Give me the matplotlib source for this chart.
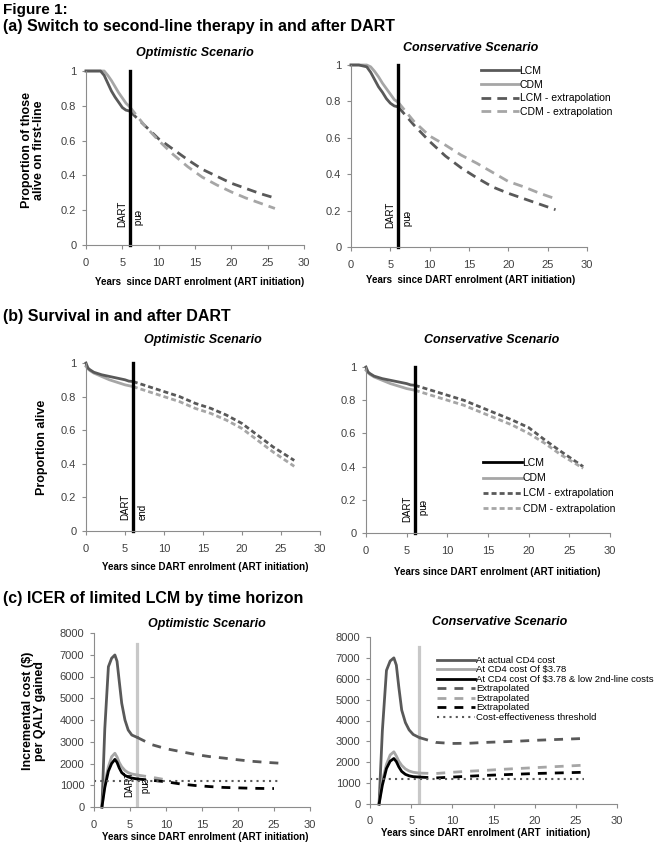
import matplotlib
matplotlib.use("Agg")
import matplotlib.pyplot as plt
from matplotlib.lines import Line2D

plt.rcParams['font.family'] = ['Liberation Sans', 'DejaVu Sans']

# ----- colours -----
DARK = "#595959"
LIGHT = "#a6a6a6"
BLACK = "#000000"
VLINE_C = "#c8c8c8"

# ----- (a) switch to second-line -----
a_t = [0, 1, 2, 2.5, 3, 3.5, 4, 4.5, 5, 5.5, 6]
a_opt_lcm = [1, 1, 1, 0.975, 0.93, 0.885, 0.85, 0.82, 0.79, 0.775, 0.77]
a_opt_cdm = [1, 1, 1, 1, 0.975, 0.945, 0.91, 0.875, 0.845, 0.815, 0.795]
a_con_lcm = [1, 1, 0.99, 0.96, 0.92, 0.88, 0.85, 0.815, 0.79, 0.775, 0.77]
a_con_cdm = [1, 1, 1, 0.99, 0.965, 0.935, 0.9, 0.87, 0.84, 0.81, 0.795]

a_te = [6, 8, 10, 12, 14, 16, 18, 20, 22, 24, 26]
a_opt_lcm_ext = [0.77, 0.69, 0.61, 0.55, 0.49, 0.435, 0.395, 0.355, 0.325, 0.295, 0.27]
a_opt_cdm_ext = [0.795, 0.69, 0.60, 0.52, 0.45, 0.39, 0.345, 0.305, 0.27, 0.24, 0.21]
a_con_lcm_ext = [0.77, 0.67, 0.58, 0.50, 0.435, 0.38, 0.33, 0.295, 0.265, 0.235, 0.205]
a_con_cdm_ext = [0.795, 0.69, 0.61, 0.56, 0.505, 0.46, 0.41, 0.36, 0.33, 0.295, 0.265]

# ----- (b) survival -----
b_t = [0, 0.25, 0.5, 1, 2, 3, 4, 5, 5.5, 6]
b_opt_lcm = [1.0, 0.97, 0.96, 0.945, 0.93, 0.92, 0.91, 0.9, 0.892, 0.89]
b_opt_cdm = [0.98, 0.965, 0.955, 0.94, 0.92, 0.9, 0.885, 0.87, 0.865, 0.86]
b_con_lcm = [1.0, 0.97, 0.96, 0.945, 0.93, 0.92, 0.91, 0.9, 0.892, 0.89]
b_con_cdm = [0.98, 0.965, 0.955, 0.94, 0.92, 0.9, 0.885, 0.87, 0.865, 0.86]

b_te = [6, 8, 10, 12, 14, 16, 18, 20, 22, 24, 26.7]
b_opt_lcm_ext = [0.89, 0.86, 0.83, 0.8, 0.76, 0.73, 0.69, 0.64, 0.57, 0.5, 0.42]
b_opt_cdm_ext = [0.86, 0.83, 0.8, 0.77, 0.73, 0.7, 0.66, 0.61, 0.54, 0.47, 0.385]
b_con_lcm_ext = [0.89, 0.86, 0.83, 0.8, 0.76, 0.72, 0.68, 0.635, 0.56, 0.49, 0.4]
b_con_cdm_ext = [0.86, 0.83, 0.8, 0.77, 0.73, 0.69, 0.65, 0.6, 0.54, 0.47, 0.39]

# ----- (c) ICER -----
c_t = [1.1, 1.5, 2.0, 2.45, 2.9, 3.2, 3.5, 3.85, 4.3, 4.75, 5.25, 6.0]
c_opt_actual = [0, 3600, 6450, 6840, 6990, 6700, 5800, 4770, 4000, 3540, 3310, 3200]
c_opt_low = [0, 1100, 1850, 2310, 2470, 2300, 2050, 1850, 1680, 1580, 1520, 1470]
c_opt_low2 = [0, 900, 1650, 2000, 2190, 2050, 1800, 1580, 1450, 1380, 1330, 1290]
c_con_actual = [0, 3500, 6400, 6850, 7000, 6650, 5600, 4500, 3900, 3550, 3330, 3180]
c_con_low = [0, 1100, 1900, 2350, 2500, 2300, 2050, 1850, 1680, 1580, 1520, 1480]
c_con_low2 = [0, 900, 1700, 2050, 2180, 2030, 1780, 1560, 1420, 1350, 1310, 1290]

c_te = [6, 8, 10, 12, 14, 16, 18, 20, 22, 24, 26]
c_opt_actual_ext = [3200, 2870, 2680, 2550, 2420, 2320, 2250, 2170, 2100, 2050, 2010]
c_opt_low_te = [6, 7, 8, 9, 10]
c_opt_low_ext = [1470, 1420, 1370, 1310, 1250]
c_opt_low2_te = [6, 8, 10, 12, 14, 16, 18, 20, 22, 24, 25]
c_opt_low2_ext = [1290, 1230, 1160, 1060, 990, 940, 900, 880, 860, 850, 850]
c_con_actual_ext = [3180, 2950, 2900, 2910, 2950, 2980, 3010, 3050, 3080, 3110, 3140]
c_con_low_ext = [1480, 1460, 1520, 1570, 1610, 1660, 1700, 1740, 1780, 1820, 1860]
c_con_low2_ext = [1290, 1250, 1290, 1330, 1370, 1400, 1430, 1460, 1480, 1500, 1520]
threshold_x = [0, 26]
threshold = [1200, 1200]

dart_end = 6
x_ticks = [0, 5, 10, 15, 20, 25, 30]
p_ticks = [0, 0.2, 0.4, 0.6, 0.8, 1]
p_labels = ["0", "0.2", "0.4", "0.6", "0.8", "1"]
c_ticks = [0, 1000, 2000, 3000, 4000, 5000, 6000, 7000, 8000]

xlab = "Years  since DART enrolment (ART initiation)"

W, H = 657, 850
fig = plt.figure(figsize=(W / 100, H / 100), dpi=100)


def add_ax(l, t, r, b):
    return fig.add_axes([l / W, 1 - b / H, (r - l) / W, (b - t) / H])


def ftext(x, y, s, **kw):
    fig.text(x / W, 1 - y / H, s, **kw)


def style(ax, yticks, ylabels, ymax):
    ax.set_xlim(0, 30)
    ax.set_ylim(0, ymax)
    for s in ['top', 'right']:
        ax.spines[s].set_visible(False)
    for s in ['left', 'bottom']:
        ax.spines[s].set_color('#8c8c8c')
        ax.spines[s].set_linewidth(0.8)
    ax.set_xticks(x_ticks)
    ax.set_yticks(yticks)
    ax.set_yticklabels(ylabels)
    ax.tick_params(axis='both', direction='out', length=3, color='#8c8c8c',
                   labelsize=8, labelcolor='#404040')
    ax.tick_params(axis='x', pad=6)
    ax.tick_params(axis='y', pad=4)
    ax.patch.set_visible(False)


lw = 2.0

# ---------------- headers ----------------
ftext(3, 10, "Figure 1:", fontsize=11, weight='bold', va='center')
ftext(3, 27, "(a) Switch to second-line therapy in and after DART", fontsize=11.5, weight='bold', va='center')
ftext(3, 316, "(b) Survival in and after DART", fontsize=11.5, weight='bold', va='center')
ftext(3, 598, "(c) ICER of limited LCM by time horizon", fontsize=11.5, weight='bold', va='center')

# ---------------- (a) ----------------
da = (3.5, 2.2)
panels_a = [
    ((86, 71, 304, 245), a_opt_lcm, a_opt_cdm, a_opt_lcm_ext, a_opt_cdm_ext, "Optimistic Scenario", (195, 53), (200, 282)),
    ((351, 65, 587, 247), a_con_lcm, a_con_cdm, a_con_lcm_ext, a_con_cdm_ext, "Conservative Scenario", (471, 48), (471, 280)),
]
for i, (rect, lcm, cdm, lcm_e, cdm_e, title, tpos, xpos) in enumerate(panels_a):
    ax = add_ax(*rect)
    style(ax, p_ticks, p_labels, 1)
    ax.plot(a_t, cdm, color=LIGHT, lw=lw, clip_on=False)
    ax.plot(a_t, lcm, color=DARK, lw=lw, clip_on=False)
    ax.plot(a_te, lcm_e, color=DARK, lw=lw, dashes=da, clip_on=False)
    ax.plot(a_te, cdm_e, color=LIGHT, lw=lw, dashes=da, clip_on=False)
    ax.plot([dart_end, dart_end], [0, 1], color=BLACK, lw=2.4, clip_on=False)
    ax.text(dart_end - 0.35, 0.105, "DART", rotation=90, ha='right', va='bottom', fontsize=7)
    ax.text(dart_end + 0.25, 0.2, "end", rotation=270, ha='left', va='top', fontsize=7)
    ftext(tpos[0], tpos[1], title, fontsize=9, weight='bold', style='italic', ha='center', va='center')
    ftext(xpos[0], xpos[1], xlab, fontsize=7, weight='bold', ha='center', va='center')
    if i == 0:
        ftext(33, 150, "Proportion of those\nalive on first-line", fontsize=9, weight='bold',
              rotation=90, ha='center', va='center', linespacing=1.0)
    else:
        handles = [Line2D([], [], color=DARK, lw=lw),
                   Line2D([], [], color=LIGHT, lw=lw),
                   Line2D([], [], color=DARK, lw=lw, dashes=da),
                   Line2D([], [], color=LIGHT, lw=lw, dashes=da)]
        fig.legend(handles, ["LCM", "CDM", "LCM - extrapolation", "CDM - extrapolation"],
                   loc='upper left', bbox_to_anchor=(481 / W, 1 - 66 / H), frameon=False,
                   fontsize=7.5, handlelength=3.6, handletextpad=0.1, labelspacing=0.35,
                   borderpad=0, borderaxespad=0)

# ---------------- (b) ----------------
db = (1.8, 1.1)
panels_b = [
    ((86, 363, 320, 531), b_opt_lcm, b_opt_cdm, b_opt_lcm_ext, b_opt_cdm_ext, "Optimistic Scenario", (203, 340), (205, 567), 90),
    ((366, 367, 610, 533), b_con_lcm, b_con_cdm, b_con_lcm_ext, b_con_cdm_ext, "Conservative Scenario", (492, 340), (497, 572), 270),
]
for i, (rect, lcm, cdm, lcm_e, cdm_e, title, tpos, xpos, erot) in enumerate(panels_b):
    ax = add_ax(*rect)
    style(ax, p_ticks, p_labels, 1)
    ax.plot(b_t, cdm, color=LIGHT, lw=lw, clip_on=False)
    ax.plot(b_t, lcm, color=DARK, lw=lw, clip_on=False)
    ax.plot(b_te, lcm_e, color=DARK, lw=lw, dashes=db, clip_on=False)
    ax.plot(b_te, cdm_e, color=LIGHT, lw=lw, dashes=db, clip_on=False)
    ax.plot([dart_end, dart_end], [0, 1], color=BLACK, lw=2.4, clip_on=False)
    ax.text(dart_end - 0.3, 0.065, "DART", rotation=90, ha='right', va='bottom', fontsize=7)
    if erot == 90:
        ax.text(dart_end + 0.6, 0.065, "end", rotation=90, ha='left', va='bottom', fontsize=7)
    else:
        ax.text(dart_end + 0.25, 0.2, "end", rotation=270, ha='left', va='top', fontsize=7)
    ftext(tpos[0], tpos[1], title, fontsize=9, weight='bold', style='italic', ha='center', va='center')
    ftext(xpos[0], xpos[1], xlab.replace("  ", " "), fontsize=7, weight='bold', ha='center', va='center')
    if i == 0:
        ftext(42, 447, "Proportion alive", fontsize=9, weight='bold', rotation=90, ha='center', va='center')
    else:
        handles = [Line2D([], [], color=BLACK, lw=lw),
                   Line2D([], [], color=LIGHT, lw=lw),
                   Line2D([], [], color=DARK, lw=lw, dashes=db),
                   Line2D([], [], color=LIGHT, lw=lw, dashes=db)]
        fig.legend(handles, ["LCM", "CDM", "LCM - extrapolation", "CDM - extrapolation"],
                   loc='upper left', bbox_to_anchor=(483 / W, 1 - 458 / H), frameon=False,
                   fontsize=7.5, handlelength=3.7, handletextpad=0.1, labelspacing=0.5,
                   borderpad=0, borderaxespad=0)

# ---------------- (c) ----------------
dc = (3.2, 2.9)
dots = (1, 2)
panels_c = [
    ((94, 633, 310, 807), c_opt_actual, c_opt_low, c_opt_low2,
     (c_te, c_opt_actual_ext), (c_opt_low_te, c_opt_low_ext), (c_opt_low2_te, c_opt_low2_ext),
     "Optimistic Scenario", (207, 624), (205, 837)),
    ((370, 637, 617, 804), c_con_actual, c_con_low, c_con_low2,
     (c_te, c_con_actual_ext), (c_te, c_con_low_ext), (c_te, c_con_low2_ext),
     "Conservative Scenario", (500, 622), (486, 833)),
]
for i, (rect, act, low, low2, act_e, low_e, low2_e, title, tpos, xpos) in enumerate(panels_c):
    ax = add_ax(*rect)
    style(ax, c_ticks, [str(v) for v in c_ticks], 8000)
    ax.plot([dart_end, dart_end], [0, 7500], color=VLINE_C, lw=2.3, zorder=1)
    ax.plot(c_t, act, color=DARK, lw=lw, clip_on=False)
    ax.plot(c_t, low, color=LIGHT, lw=lw, clip_on=False)
    ax.plot(c_t, low2, color=BLACK, lw=lw, clip_on=False)
    ax.plot(act_e[0], act_e[1], color=DARK, lw=lw, dashes=dc)
    ax.plot(low_e[0], low_e[1], color=LIGHT, lw=lw, dashes=dc)
    ax.plot(low2_e[0], low2_e[1], color=BLACK, lw=lw, dashes=dc)
    ax.plot(threshold_x, threshold, color=DARK, lw=1.5, dashes=dots)
    ftext(tpos[0], tpos[1], title, fontsize=9, weight='bold', style='italic', ha='center', va='center')
    ftext(xpos[0], xpos[1], xlab.replace("  ", " ") if i == 0 else "Years since DART enrolment (ART  initiation)",
          fontsize=7, weight='bold', ha='center', va='center')
    if i == 0:
        ax.text(dart_end - 0.45, 450, "DART", rotation=90, ha='right', va='bottom', fontsize=7, zorder=0)
        ax.text(dart_end + 0.2, 1350, "end", rotation=270, ha='left', va='top', fontsize=7, zorder=0)
        ftext(34, 711, "Incremental cost (\\$)\nper QALY gained", fontsize=9, weight='bold',
              rotation=90, ha='center', va='center', linespacing=1.0)
    else:
        handles = [Line2D([], [], color=DARK, lw=lw),
                   Line2D([], [], color=LIGHT, lw=lw),
                   Line2D([], [], color=BLACK, lw=lw),
                   Line2D([], [], color=DARK, lw=lw, dashes=dc),
                   Line2D([], [], color=LIGHT, lw=lw, dashes=dc),
                   Line2D([], [], color=BLACK, lw=lw, dashes=dc),
                   Line2D([], [], color=DARK, lw=1.5, dashes=dots)]
        labels = ["At actual CD4 cost", "At CD4 cost Of \\$3.78",
                  "At CD4 cost Of \\$3.78 & low 2nd-line costs",
                  "Extrapolated", "Extrapolated", "Extrapolated",
                  "Cost-effectiveness threshold"]
        fig.legend(handles, labels, loc='upper left', bbox_to_anchor=(437 / W, 1 - 656 / H),
                   frameon=False, fontsize=6.8, handlelength=4.0, handletextpad=0.15,
                   labelspacing=0.05, borderpad=0, borderaxespad=0)

fig.savefig("out.png", dpi=100)
